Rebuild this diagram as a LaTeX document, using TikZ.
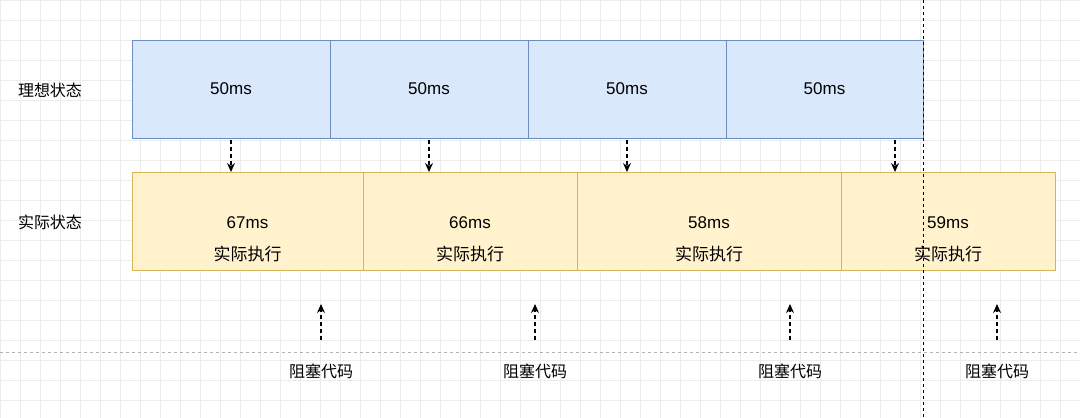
\documentclass[tikz,border=0pt]{standalone}
\usepackage{fontspec}
\setmainfont{Liberation Sans}
\newfontfamily\cjk{Noto Sans CJK SC}
\usetikzlibrary{arrows.meta}
\definecolor{bfill}{HTML}{DAE8FC}\definecolor{bdraw}{HTML}{6C8EBF}
\definecolor{yfill}{HTML}{FFF2CC}\definecolor{ydraw}{HTML}{D6B656}
\begin{document}
\begin{tikzpicture}[x=1pt,y=-1pt,
 bbox/.style={draw=bdraw,fill=bfill,minimum height=98pt,inner sep=0pt,font=\fontsize{17}{19}\selectfont},
 ybox/.style={draw=ydraw,fill=yfill,minimum height=98pt,inner sep=0pt},
 ytxt/.style={inner sep=0pt,font=\fontsize{17}{32}\selectfont,align=center},
 lab/.style={font=\cjk\fontsize{16}{18}\selectfont},
 darr/.style={dashed,dash pattern=on 4pt off 3pt,-{Stealth[length=9pt,width=8pt]},line width=1.2pt}]
\useasboundingbox (0,0) rectangle (1080,418);
\fill[white] (0,0) rectangle (1080,418);
\foreach \i in {0,20,...,1080} \draw[gray!15,line width=0.5pt] (\i,0) -- (\i,418);
\foreach \j in {0,20,...,418} \draw[gray!15,line width=0.5pt] (0,\j) -- (1080,\j);
\foreach \a/\b [count=\i] in {132/330,330/528,528/726,726/923}
  \node[bbox,minimum width={\b-\a}] (t\i) at ({(\a+\b)/2},89) {50ms};
\foreach \a/\b/\t [count=\i] in {132/363/67ms,363/577/66ms,577/841/58ms,841/1055/59ms}{
  \node[ybox,minimum width={\b-\a}] (r\i) at ({(\a+\b)/2},221) {};
  \node[ytxt] (rt\i) at ({(\a+\b)/2},239) {\t\\{\cjk 实际执行}};}
\node[lab] (l1) at (50,90) {理想状态};
\node[lab] (l2) at (50,222) {实际状态};
\foreach \x [count=\i] in {231,429,627,895}{
  \coordinate (s\i) at (\x,140); \coordinate (e\i) at (\x,172);
  \draw[darr] (s\i) -- (e\i);}
\foreach \x [count=\i] in {321,535,790,997}{
  \node[lab] (k\i) at (\x,371) {阻塞代码};
  \coordinate (u\i) at (\x,340); \coordinate (v\i) at (\x,304);
  \draw[darr] (u\i) -- (v\i);}
\coordinate (h1) at (0,352); \coordinate (h2) at (1080,352);
\draw[gray!60,dashed,line width=0.8pt] (h1) -- (h2);
\coordinate (d1) at (923,0); \coordinate (d2) at (923,418);
\draw[black,dashed,line width=1pt] (d1) -- (d2);
\end{tikzpicture}
\end{document}
